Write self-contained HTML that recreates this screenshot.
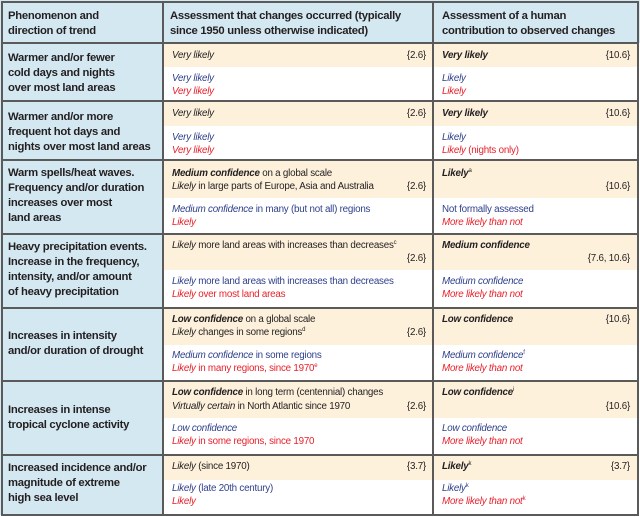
<!DOCTYPE html>
<html><head><meta charset="utf-8"><style>
*{margin:0;padding:0;box-sizing:border-box}
body{width:640px;height:517px;background:#fff;position:relative;overflow:hidden;font-family:"Liberation Sans",sans-serif;color:#231f20}
.b{position:absolute}
.t{position:absolute;font-size:9.8px;line-height:14px;white-space:nowrap;letter-spacing:-0.22px}
.h{position:absolute;font-size:11.3px;font-weight:bold;line-height:15px;white-space:nowrap;letter-spacing:-0.28px}
.r{text-align:right;width:80px}
.bl{color:#2e3f8c}.rd{color:#e8202a}
i{font-style:italic}
sup{font-size:6px;vertical-align:4px;line-height:0}
</style></head><body>
<div class="b" style="left:0;top:0;width:640px;height:43px;background:#d4e8f2"></div>
<div class="b" style="left:0;top:43px;width:163px;height:472px;background:#d4e8f2"></div>
<div class="b" style="left:163px;top:43px;width:476px;height:24px;background:#fdf1dc"></div>
<div class="b" style="left:163px;top:101px;width:476px;height:25px;background:#fdf1dc"></div>
<div class="b" style="left:163px;top:160px;width:476px;height:38px;background:#fdf1dc"></div>
<div class="b" style="left:163px;top:234px;width:476px;height:36px;background:#fdf1dc"></div>
<div class="b" style="left:163px;top:308px;width:476px;height:37px;background:#fdf1dc"></div>
<div class="b" style="left:163px;top:381px;width:476px;height:37px;background:#fdf1dc"></div>
<div class="b" style="left:163px;top:455px;width:476px;height:25px;background:#fdf1dc"></div>
<div class="b" style="left:1px;top:1px;width:638px;height:515px;border:2px solid #5a5a5a"></div>
<div class="b" style="left:162px;top:1px;width:2px;height:515px;background:#5a5a5a"></div>
<div class="b" style="left:432px;top:1px;width:2px;height:515px;background:#5a5a5a"></div>
<div class="b" style="left:1px;top:42px;width:638px;height:2px;background:#5a5a5a"></div>
<div class="b" style="left:1px;top:100px;width:638px;height:2px;background:#5a5a5a"></div>
<div class="b" style="left:1px;top:159px;width:638px;height:2px;background:#5a5a5a"></div>
<div class="b" style="left:1px;top:233px;width:638px;height:2px;background:#5a5a5a"></div>
<div class="b" style="left:1px;top:307px;width:638px;height:2px;background:#5a5a5a"></div>
<div class="b" style="left:1px;top:380px;width:638px;height:2px;background:#5a5a5a"></div>
<div class="b" style="left:1px;top:454px;width:638px;height:2px;background:#5a5a5a"></div>

<div class="h" style="left:8px;top:9px">Phenomenon and<br>direction of trend</div>
<div class="h" style="left:170px;top:9px">Assessment that changes occurred (typically<br>since 1950 unless otherwise indicated)</div>
<div class="h" style="left:442px;top:9px">Assessment of a human<br>contribution to observed changes</div>

<div class="h" style="left:8px;top:51px">Warmer and/or fewer<br>cold days and nights<br>over most land areas</div>
<div class="h" style="left:8px;top:110px">Warmer and/or more<br>frequent hot days and<br>nights over most land areas</div>
<div class="h" style="left:8px;top:166px">Warm spells/heat waves.<br>Frequency and/or duration<br>increases over most<br>land areas</div>
<div class="h" style="left:8px;top:240px">Heavy precipitation events.<br>Increase in the frequency,<br>intensity, and/or amount<br>of heavy precipitation</div>
<div class="h" style="left:8px;top:329px">Increases in intensity<br>and/or duration of drought</div>
<div class="h" style="left:8px;top:403px">Increases in intense<br>tropical cyclone activity</div>
<div class="h" style="left:8px;top:461px">Increased incidence and/or<br>magnitude of extreme<br>high sea level</div>

<div class="t" style="left:172px;top:49px"><i>Very likely</i></div>
<div class="t r" style="left:346px;top:49px">{2.6}</div>
<div class="t" style="left:442px;top:49px"><b><i>Very likely</i></b></div>
<div class="t r" style="left:550px;top:49px">{10.6}</div>
<div class="t bl" style="left:172px;top:72px"><i>Very likely</i></div>
<div class="t rd" style="left:172px;top:85px"><i>Very likely</i></div>
<div class="t bl" style="left:442px;top:72px"><i>Likely</i></div>
<div class="t rd" style="left:442px;top:85px"><i>Likely</i></div>

<div class="t" style="left:172px;top:107px"><i>Very likely</i></div>
<div class="t r" style="left:346px;top:107px">{2.6}</div>
<div class="t" style="left:442px;top:107px"><b><i>Very likely</i></b></div>
<div class="t r" style="left:550px;top:107px">{10.6}</div>
<div class="t bl" style="left:172px;top:131px"><i>Very likely</i></div>
<div class="t rd" style="left:172px;top:144px"><i>Very likely</i></div>
<div class="t bl" style="left:442px;top:131px"><i>Likely</i></div>
<div class="t rd" style="left:442px;top:144px"><i>Likely</i> (nights only)</div>

<div class="t" style="left:172px;top:167px"><b><i>Medium confidence</i></b> on a global scale</div>
<div class="t" style="left:172px;top:180px"><i>Likely</i> in large parts of Europe, Asia and Australia</div>
<div class="t r" style="left:346px;top:180px">{2.6}</div>
<div class="t" style="left:442px;top:167px"><b><i>Likely</i></b><sup>a</sup></div>
<div class="t r" style="left:550px;top:180px">{10.6}</div>
<div class="t bl" style="left:172px;top:203px"><i>Medium confidence</i> in many (but not all) regions</div>
<div class="t rd" style="left:172px;top:216px"><i>Likely</i></div>
<div class="t bl" style="left:442px;top:203px">Not formally assessed</div>
<div class="t rd" style="left:442px;top:216px"><i>More likely than not</i></div>

<div class="t" style="left:172px;top:239px"><i>Likely</i> more land areas with increases than decreases<sup>c</sup></div>
<div class="t r" style="left:346px;top:252px">{2.6}</div>
<div class="t" style="left:442px;top:239px"><b><i>Medium confidence</i></b></div>
<div class="t r" style="left:550px;top:252px">{7.6, 10.6}</div>
<div class="t bl" style="left:172px;top:275px"><i>Likely</i> more land areas with increases than decreases</div>
<div class="t rd" style="left:172px;top:288px"><i>Likely</i> over most land areas</div>
<div class="t bl" style="left:442px;top:275px"><i>Medium confidence</i></div>
<div class="t rd" style="left:442px;top:288px"><i>More likely than not</i></div>

<div class="t" style="left:172px;top:313px"><b><i>Low confidence</i></b> on a global scale</div>
<div class="t" style="left:172px;top:326px"><i>Likely</i> changes in some regions<sup>d</sup></div>
<div class="t r" style="left:346px;top:326px">{2.6}</div>
<div class="t" style="left:442px;top:313px"><b><i>Low confidence</i></b></div>
<div class="t r" style="left:550px;top:313px">{10.6}</div>
<div class="t bl" style="left:172px;top:349px"><i>Medium confidence</i> in some regions</div>
<div class="t rd" style="left:172px;top:362px"><i>Likely</i> in many regions, since 1970<sup>e</sup></div>
<div class="t bl" style="left:442px;top:349px"><i>Medium confidence</i><sup>f</sup></div>
<div class="t rd" style="left:442px;top:362px"><i>More likely than not</i></div>

<div class="t" style="left:172px;top:386px"><b><i>Low confidence</i></b> in long term (centennial) changes</div>
<div class="t" style="left:172px;top:400px"><i>Virtually certain</i> in North Atlantic since 1970</div>
<div class="t r" style="left:346px;top:400px">{2.6}</div>
<div class="t" style="left:442px;top:386px"><b><i>Low confidence</i></b><sup>i</sup></div>
<div class="t r" style="left:550px;top:400px">{10.6}</div>
<div class="t bl" style="left:172px;top:422px"><i>Low confidence</i></div>
<div class="t rd" style="left:172px;top:435px"><i>Likely</i> in some regions, since 1970</div>
<div class="t bl" style="left:442px;top:422px"><i>Low confidence</i></div>
<div class="t rd" style="left:442px;top:435px"><i>More likely than not</i></div>

<div class="t" style="left:172px;top:460px"><i>Likely</i> (since 1970)</div>
<div class="t r" style="left:346px;top:460px">{3.7}</div>
<div class="t" style="left:442px;top:460px"><b><i>Likely</i></b><sup>k</sup></div>
<div class="t r" style="left:550px;top:460px">{3.7}</div>
<div class="t bl" style="left:172px;top:482px"><i>Likely</i> (late 20th century)</div>
<div class="t rd" style="left:172px;top:495px"><i>Likely</i></div>
<div class="t bl" style="left:442px;top:482px"><i>Likely</i><sup>k</sup></div>
<div class="t rd" style="left:442px;top:495px"><i>More likely than not</i><sup>k</sup></div>
</body></html>
